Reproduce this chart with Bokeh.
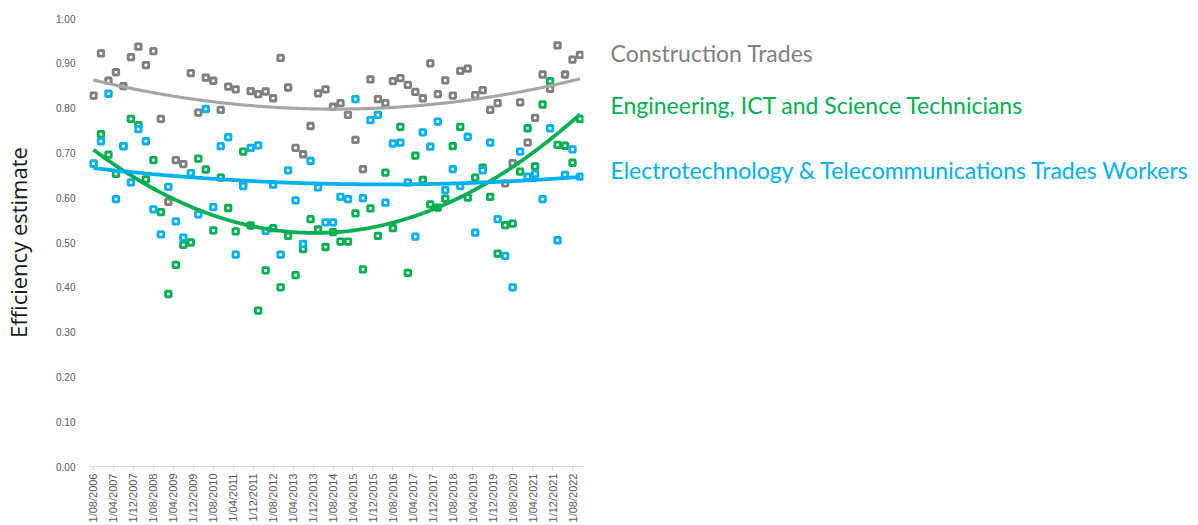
import math
import numpy as np
import pandas as pd
from bokeh.plotting import figure
from bokeh.layouts import row
from bokeh.models import Range1d, FixedTicker, NumeralTickFormatter, ColumnDataSource
from bokeh.core.properties import value
from bokeh.embed import file_html
from bokeh.resources import INLINE

# ---------------- data ----------------
dates = pd.date_range("2006-08-01", periods=66, freq="3MS")

construction = [0.828, 0.922, 0.861, 0.880, 0.849, 0.914, 0.937, 0.896, 0.927, 0.776,
                0.591, 0.684, 0.675, 0.878, 0.790, 0.868, 0.861, 0.796, 0.848, 0.842,
                0.630, 0.838, 0.831, 0.837, 0.822, 0.912, 0.846, 0.711, 0.697, 0.760,
                0.833, 0.842, 0.803, 0.811, 0.785, 0.729, 0.664, 0.864, 0.820, 0.811,
                0.860, 0.867, 0.852, 0.836, 0.822, 0.900, 0.831, 0.862, 0.828, 0.883,
                0.888, 0.829, 0.840, 0.796, 0.811, 0.632, 0.677, 0.813, 0.723, 0.778,
                0.875, 0.843, 0.940, 0.875, 0.908, 0.919]

engineering = [0.676, 0.742, 0.696, 0.653, 0.715, 0.776, 0.762, 0.641, 0.684, 0.568,
               0.385, 0.450, 0.495, 0.500, 0.687, 0.663, 0.527, 0.645, 0.577, 0.525,
               0.703, 0.538, 0.348, 0.438, 0.532, 0.400, 0.515, 0.427, 0.485, 0.552,
               0.529, 0.490, 0.523, 0.502, 0.502, 0.565, 0.440, 0.576, 0.515, 0.656,
               0.532, 0.758, 0.432, 0.694, 0.640, 0.585, 0.578, 0.598, 0.715, 0.758,
               0.600, 0.645, 0.667, 0.602, 0.475, 0.539, 0.542, 0.658, 0.755, 0.670,
               0.808, 0.860, 0.718, 0.716, 0.678, 0.776]

electro = [0.676, 0.726, 0.832, 0.597, 0.715, 0.634, 0.753, 0.726, 0.574, 0.518,
           0.624, 0.547, 0.511, 0.655, 0.563, 0.798, 0.579, 0.715, 0.735, 0.473,
           0.626, 0.711, 0.717, 0.526, 0.629, 0.473, 0.661, 0.594, 0.497, 0.682,
           0.623, 0.545, 0.545, 0.602, 0.597, 0.820, 0.599, 0.773, 0.785, 0.589,
           0.721, 0.723, 0.634, 0.513, 0.746, 0.714, 0.770, 0.617, 0.664, 0.626,
           0.736, 0.522, 0.661, 0.723, 0.552, 0.470, 0.400, 0.703, 0.647, 0.653,
           0.597, 0.755, 0.505, 0.651, 0.708, 0.647]

tick_dates = pd.date_range("2006-08-01", "2022-08-01", freq="8MS")
y_ticks = [round(0.1 * k, 1) for k in range(11)]

series_names = ["Construction Trades",
                "Engineering, ICT and Science Technicians",
                "Electrotechnology & Telecommunications Trades Workers"]

# ---------------- helpers ----------------
def months_since_start(d):
    return (d.year - 2006) * 12 + (d.month - 8)

xs = np.array([months_since_start(d) for d in dates], dtype=float)
tick_pos = [months_since_start(d) for d in tick_dates]
tick_labels = {m: f"1/{d.month:02d}/{d.year}" for m, d in zip(tick_pos, tick_dates)}

marker_colors = ["#7F7F7F", "#00B050", "#00B0F0"]
trend_colors = ["#A6A6A6", "#00B050", "#00B0F0"]
text_colors = ["#7F7F7F", "#00B050", "#00B0F0"]

W_TOTAL = 1198
H = 525
W_MAIN = 598

yr = Range1d(0, 1.0)
p = figure(width=W_MAIN, height=H, output_backend="svg", toolbar_location=None,
           x_range=Range1d(-1.6, 196.4), y_range=yr,
           min_border_left=88, min_border_right=15, min_border_top=18,
           min_border_bottom=0)
p.outline_line_color = None
p.background_fill_color = "white"
p.border_fill_color = "white"
p.xgrid.visible = False
p.ygrid.visible = False

# markers
for vals, col in zip([construction, engineering, electro], marker_colors):
    src = ColumnDataSource(dict(x=xs, y=vals))
    p.scatter("x", "y", source=src, marker="square", size=5.5, line_width=2.8,
              line_color=col, fill_color="white")

# quadratic trend lines
xx = np.linspace(xs.min(), xs.max(), 200)
for vals, col, lw in zip([construction, engineering, electro], trend_colors, [3.2, 3.8, 3.8]):
    c = np.polyfit(xs, np.array(vals), 2)
    p.line(xx, np.polyval(c, xx), line_color=col, line_width=lw)

# axes
xa = p.xaxis[0]
xa.ticker = FixedTicker(ticks=tick_pos)
xa.major_label_overrides = tick_labels
xa.major_label_orientation = math.pi / 2
xa.axis_line_color = "#D9D9D9"
xa.major_tick_line_color = "#D9D9D9"
xa.major_tick_out = 4
xa.major_tick_in = 0
xa.minor_tick_line_color = None
xa.major_label_text_font = "Liberation Sans"
xa.major_label_text_font_size = "11px"
xa.major_label_text_color = "#595959"
xa.major_label_standoff = 3
xa.axis_label_standoff = 0

ya = p.yaxis[0]
ya.ticker = FixedTicker(ticks=y_ticks)
ya.formatter = NumeralTickFormatter(format="0.00")
ya.axis_line_color = None
ya.major_tick_line_color = None
ya.minor_tick_line_color = None
ya.major_label_text_font = "Liberation Sans"
ya.major_label_text_font_size = "10px"
ya.major_label_text_color = "#595959"
ya.major_label_standoff = 8
ya.axis_label = "Efficiency estimate"
ya.axis_label_text_font = "Open Sans"
ya.axis_label_text_font_style = "normal"
ya.axis_label_text_font_size = "22px"
ya.axis_label_text_color = "#1A1A1A"
ya.axis_label_standoff = 20

# side panel with series names (shares the value scale of the main plot)
W_SIDE = W_TOTAL - W_MAIN
q = figure(width=W_SIDE, height=H, output_backend="svg", toolbar_location=None,
           x_range=Range1d(0, W_SIDE), y_range=yr,
           x_axis_location=None, y_axis_location=None, min_border=0)
q.outline_line_color = None
q.xgrid.visible = False
q.ygrid.visible = False
label_src = ColumnDataSource(dict(x=[12, 12, 12], y=[0.924, 0.808, 0.662],
                                  t=series_names, c=text_colors))
q.text(x="x", y="y", text="t", text_color="c", source=label_src,
       text_font=value("Lato"), text_font_size="23px",
       text_baseline="middle", text_align="left")

open("out.html", "w").write(file_html(row(p, q), INLINE))
